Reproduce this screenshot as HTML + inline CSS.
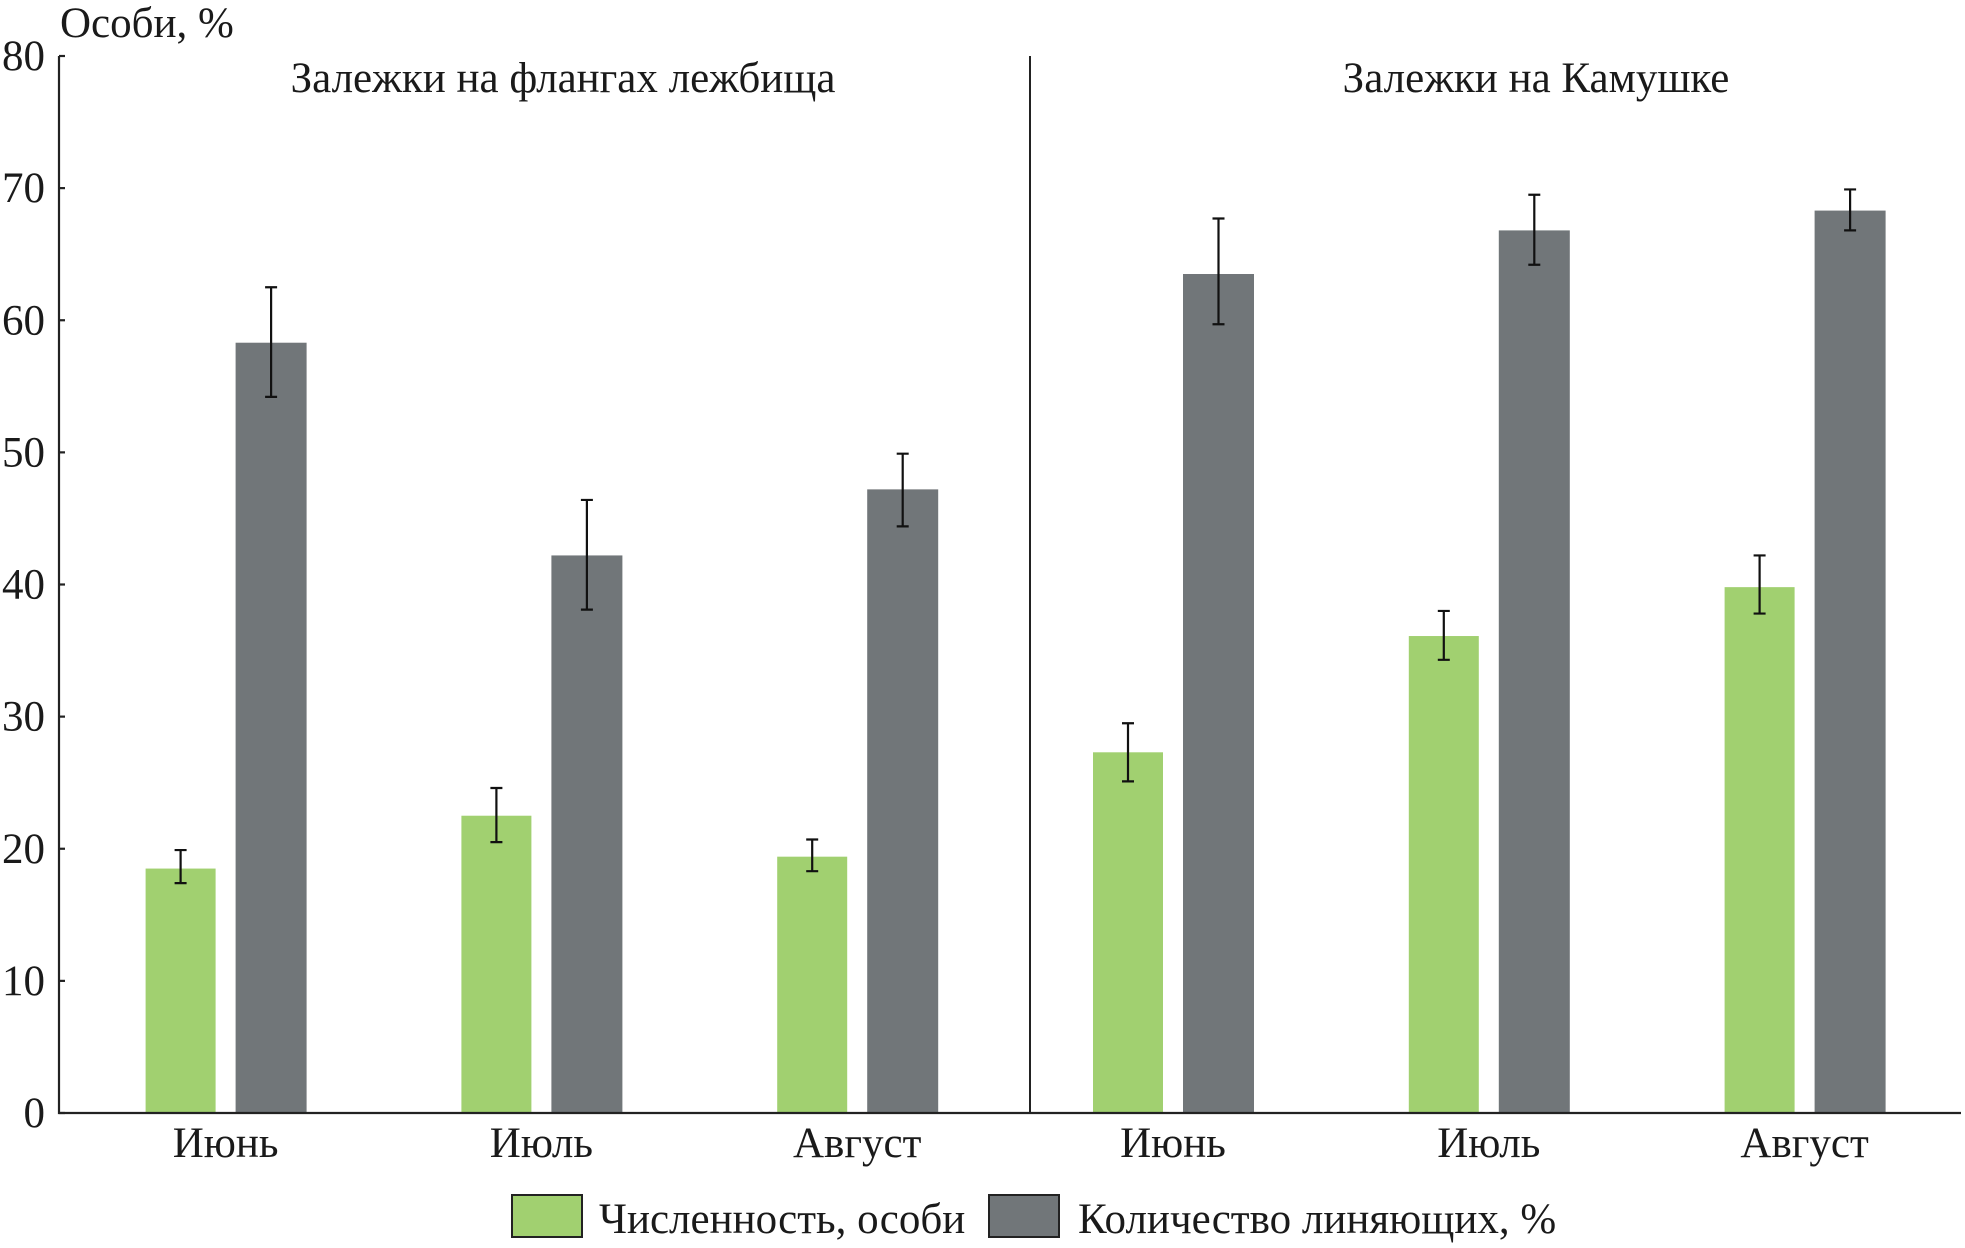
<!DOCTYPE html>
<html><head><meta charset="utf-8"><style>
html,body{margin:0;padding:0;background:#fff;}
svg{display:block;font-family:"Liberation Serif",serif;}
</style></head><body>
<svg id="chart" width="1965" height="1248" viewBox="0 0 1965 1248"></svg>
<script>
const categories=["Июнь","Июль","Август","Июнь","Июль","Август"];
const greenVals=[18.5,22.5,19.4,27.3,36.1,39.8];
const greenLo=[17.4,20.5,18.3,25.1,34.3,37.8];
const greenHi=[19.9,24.6,20.7,29.5,38.0,42.2];
const darkVals=[58.3,42.2,47.2,63.5,66.8,68.3];
const darkLo=[54.2,38.1,44.4,59.7,64.2,66.8];
const darkHi=[62.5,46.4,49.9,67.7,69.5,69.9];
const yTicks=[0,10,20,30,40,50,60,70,80];

const NS="http://www.w3.org/2000/svg";
const svg=document.getElementById('chart');
const X0=59,X1=1961,Y0=1113,Y80=56;
const y=v=>Y0-(Y0-Y80)*v/80;
const cx=i=>225.6+315.8*i;
function mk(tag,attrs,parent){const e=document.createElementNS(NS,tag);for(const k in attrs)e.setAttribute(k,attrs[k]);(parent||svg).appendChild(e);return e;}

categories.forEach((c,i)=>{
  const g=mk('rect',{x:cx(i)-80,y:y(greenVals[i]),width:70,height:Y0-y(greenVals[i]),fill:'#a1d070'});
  
  
  const d=mk('rect',{x:cx(i)+10,y:y(darkVals[i]),width:71,height:Y0-y(darkVals[i]),fill:'#717679'});
  
  
  [[cx(i)-45,greenLo[i],greenHi[i]],[cx(i)+45.5,darkLo[i],darkHi[i]]].forEach(([x,lo,hi],k)=>{
    const eb=mk('path',{d:`M${x},${y(lo)}V${y(hi)}M${x-6},${y(lo)}H${x+6}M${x-6},${y(hi)}H${x+6}`,stroke:'#111','stroke-width':2.2,fill:'none'});
    
    
  });
  const t=mk('text',{x:cx(i),y:1157,'text-anchor':'middle','font-size':43,fill:'#1a1a1a'});
  t.textContent=c;
  
  
});

const ax=mk('path',{d:`M${X0},${Y80}V${Y0}H${X1}`,stroke:'#222','stroke-width':2.2,fill:'none'});


const dv=mk('line',{x1:1030,y1:Y80,x2:1030,y2:Y0,stroke:'#222','stroke-width':2});


yTicks.forEach(v=>{
  const tk=mk('line',{x1:X0,y1:y(v),x2:X0+6,y2:y(v),stroke:'#222','stroke-width':2.2});
  
  
  const t=mk('text',{x:45,y:y(v)+14,'text-anchor':'end','font-size':43,fill:'#1a1a1a'});
  t.textContent=v;
  
  
});
</script>
<svg style="position:absolute;left:0;top:0" width="1965" height="1248">
<g font-family="Liberation Serif, serif" fill="#1a1a1a" font-size="43">
<text x="60" y="37">Особи, %</text>
<text x="563" y="92" text-anchor="middle">Залежки на флангах лежбища</text>
<text x="1536" y="92" text-anchor="middle">Залежки на Камушке</text>
<rect x="512" y="1195" width="70" height="42" fill="#a1d070" stroke="#222" stroke-width="2"/>
<text x="599" y="1233">Численность, особи</text>
<rect x="989" y="1195" width="70" height="42" fill="#717679" stroke="#222" stroke-width="2"/>
<text x="1078" y="1233">Количество линяющих, %</text>
</g></svg>
</body></html>
